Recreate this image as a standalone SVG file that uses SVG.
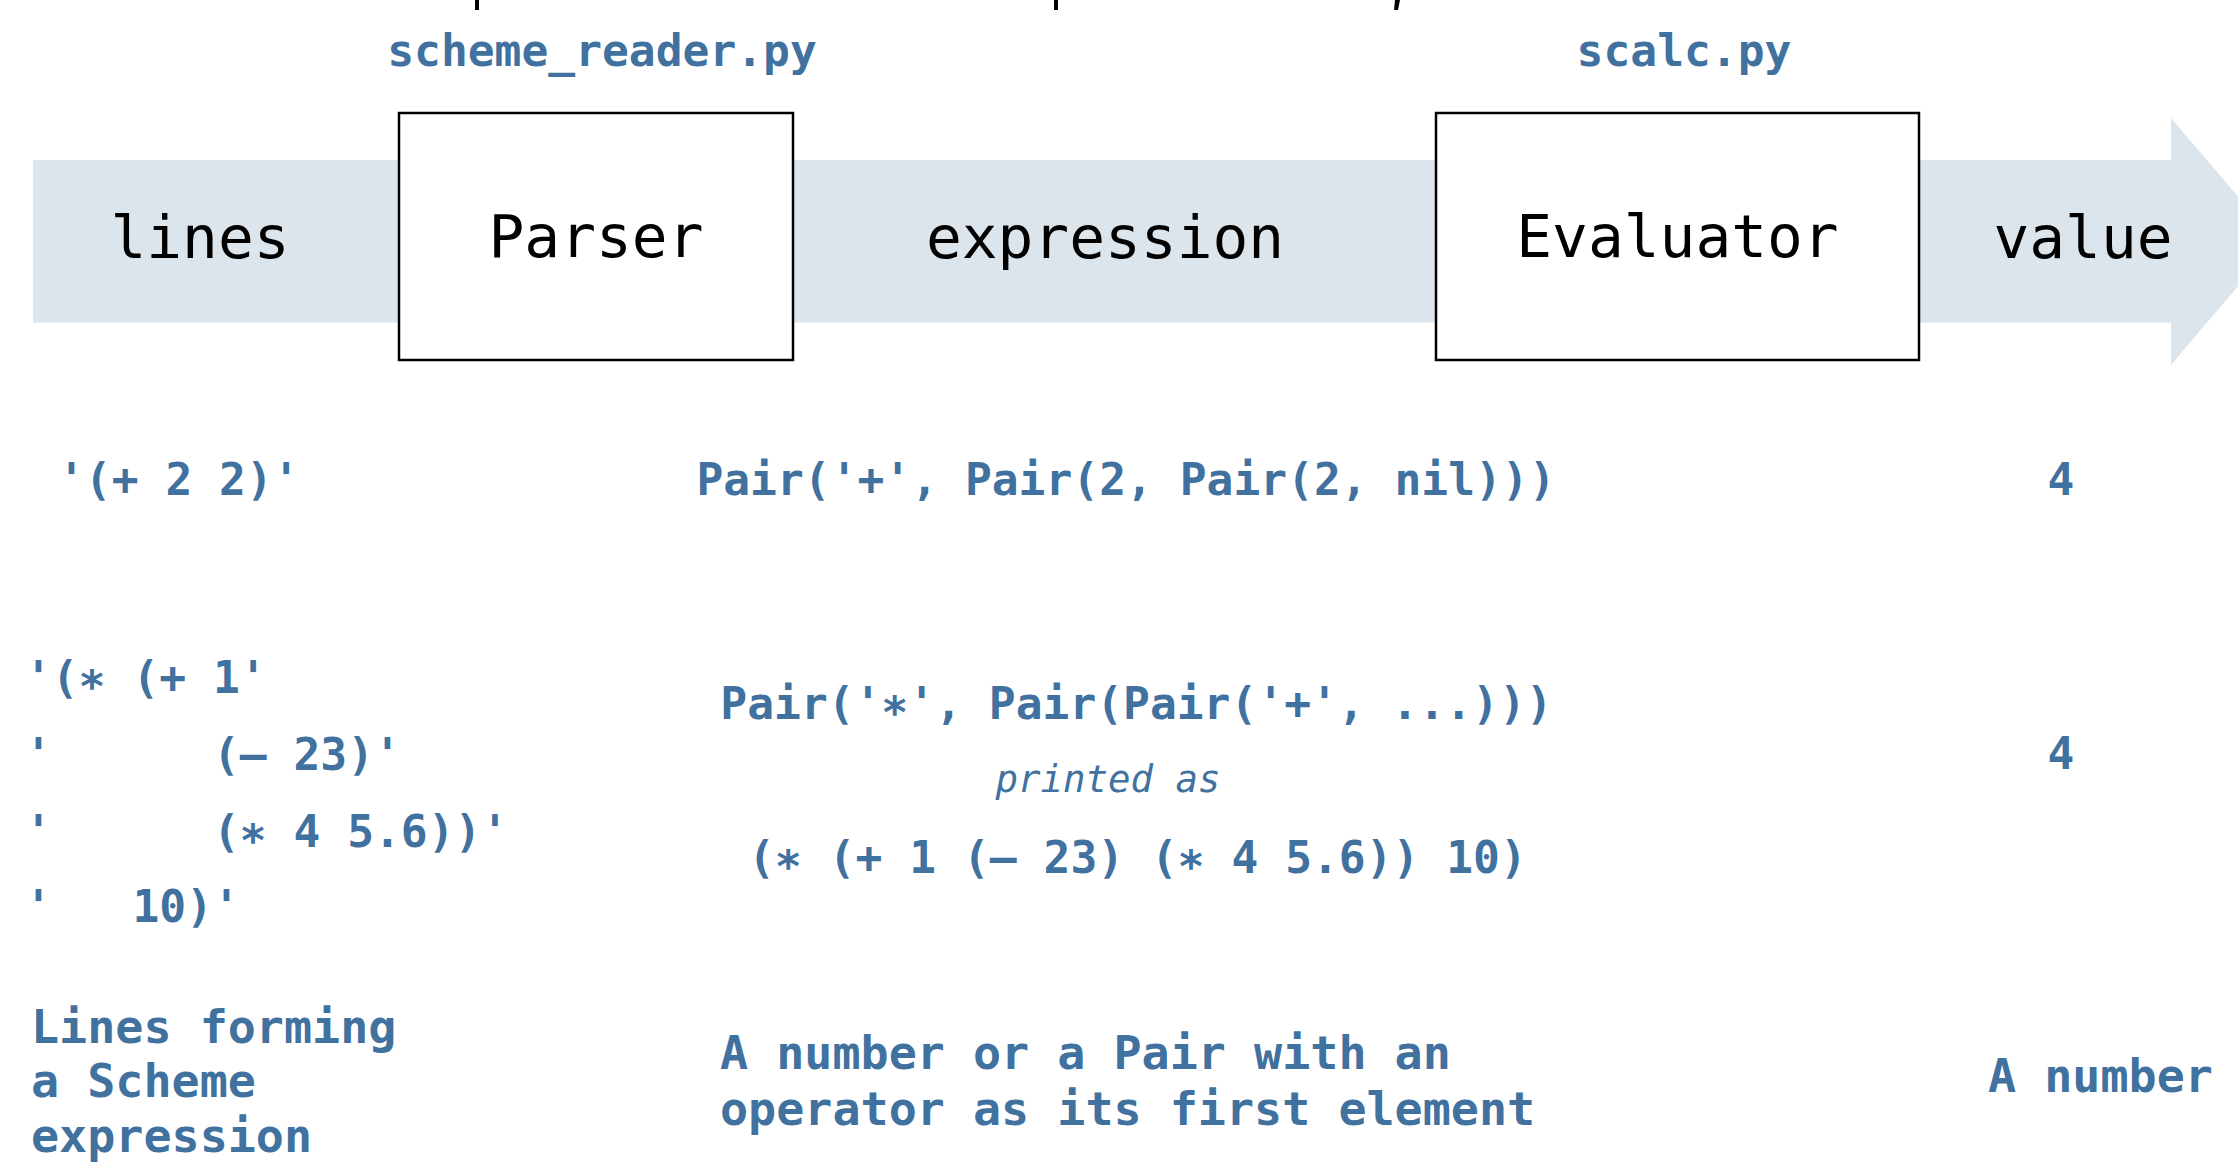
<svg xmlns="http://www.w3.org/2000/svg" width="2238" height="1166" viewBox="0 0 2238 1166">
  <style>
    .mono { font-family: "DejaVu Sans Mono", "Liberation Mono", monospace; }
    .big { font-size: 59.5px; fill: #000; }
    .blue { fill: #41719f; font-weight: bold; }
    .f44 { font-size: 44.6px; }
    .f46 { font-size: 46.7px; }
    .ital { font-size: 37.4px; font-style: italic; font-weight: normal; }
    .box { fill: #fff; stroke: #000; stroke-width: 2.5; }
    .pre { white-space: pre; }
  </style>
  <rect width="2238" height="1166" fill="#fff"/>

  <!-- cut-off title fragments at the very top -->
  <g id="title-fragments" fill="#000">
    <rect x="475" y="0" width="4" height="10"/>
    <rect x="1054" y="0" width="4" height="10"/>
    <polygon points="1395,0 1400,0 1398,10 1394,10"/>
  </g>

  <!-- flow arrow (connector) -->
  <g id="connectors">
    <polygon points="33,160 2171,160 2171,118 2276,241 2171,365 2171,322.6 33,322.6" fill="#dce4ec"/>
  </g>

  <g id="lines-label">
    <text class="mono big" x="200" y="258" text-anchor="middle">lines</text>
  </g>
  <g id="expression-label">
    <text class="mono big" x="1105" y="258" text-anchor="middle">expression</text>
  </g>
  <g id="value-label">
    <text class="mono big" x="2083" y="258" text-anchor="middle">value</text>
  </g>

  <g id="parser">
    <rect class="box" x="399" y="113" width="394" height="247"/>
    <text class="mono big" x="596" y="257" text-anchor="middle">Parser</text>
    <text class="mono blue f44" x="602" y="66" text-anchor="middle">scheme_reader.py</text>
  </g>

  <g id="evaluator">
    <rect class="box" x="1436" y="113" width="483" height="247"/>
    <text class="mono big" x="1677.5" y="257" text-anchor="middle">Evaluator</text>
    <text class="mono blue f44" x="1684" y="66" text-anchor="middle">scalc.py</text>
  </g>

  <g id="example1">
    <text class="mono blue f44 pre" x="58" y="495">'(+ 2 2)'</text>
    <text class="mono blue f44" x="1126" y="495" text-anchor="middle">Pair('+', Pair(2, Pair(2, nil)))</text>
    <text class="mono blue f44" x="2061" y="495" text-anchor="middle">4</text>
  </g>

  <g id="example2">
    <text class="mono blue f44 pre" x="25" y="693">'(∗ (+ 1'</text>
    <text class="mono blue f44 pre" x="25" y="770">'      (– 23)'</text>
    <text class="mono blue f44 pre" x="25" y="847">'      (∗ 4 5.6))'</text>
    <text class="mono blue f44 pre" x="25" y="922">'   10)'</text>
    <text class="mono blue f44" x="1136.5" y="719" text-anchor="middle">Pair('∗', Pair(Pair('+', ...)))</text>
    <text class="mono blue ital" x="1108" y="792" text-anchor="middle">printed as</text>
    <text class="mono blue f44" x="1137.5" y="873" text-anchor="middle">(∗ (+ 1 (– 23) (∗ 4 5.6)) 10)</text>
    <text class="mono blue f44" x="2061" y="769" text-anchor="middle">4</text>
  </g>

  <g id="descriptions">
    <text class="mono blue f46" x="31" y="1043">Lines forming</text>
    <text class="mono blue f46" x="31" y="1097">a Scheme</text>
    <text class="mono blue f46" x="31" y="1152">expression</text>
    <text class="mono blue f46" x="720" y="1069">A number or a Pair with an</text>
    <text class="mono blue f46" x="720" y="1125">operator as its first element</text>
    <text class="mono blue f46" x="1988" y="1092">A number</text>
  </g>
</svg>
